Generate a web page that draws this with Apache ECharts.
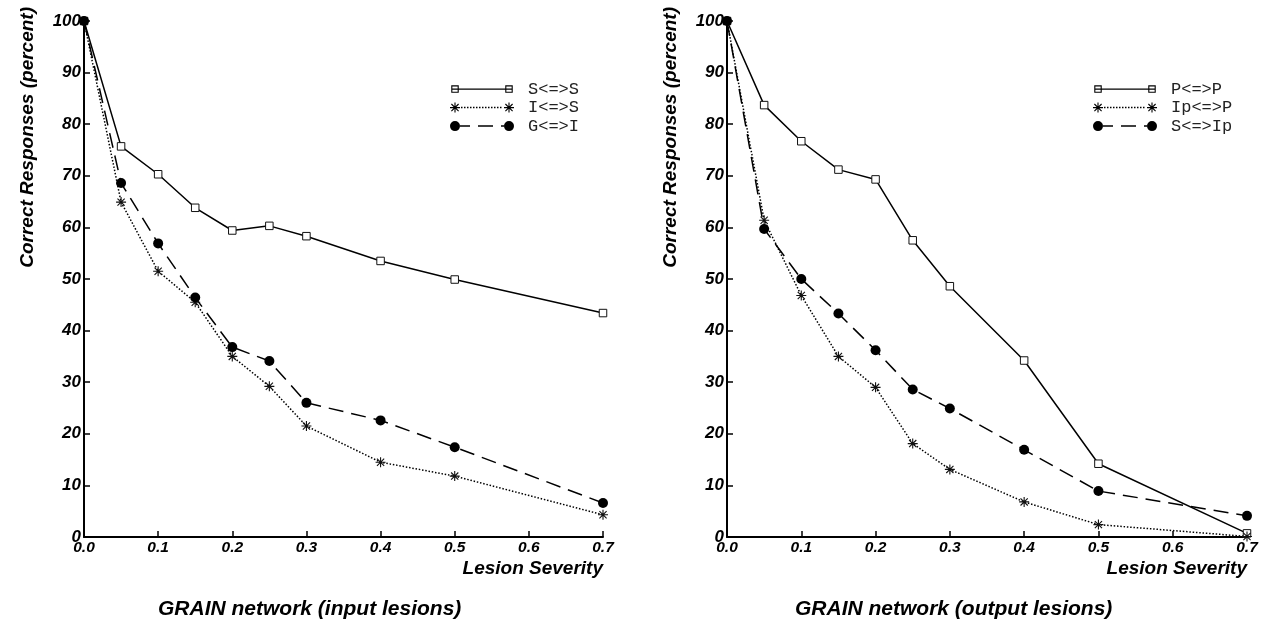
<!DOCTYPE html>
<html><head><meta charset="utf-8">
<script src="https://cdn.jsdelivr.net/npm/echarts@6/dist/echarts.min.js"></script>
<style>html,body{margin:0;padding:0;background:#fff}#c{width:1262px;height:625px}</style>
</head><body><div id="c"></div>
<script>
// ---- data ----
const severity = [0, 0.05, 0.1, 0.15, 0.2, 0.25, 0.3, 0.4, 0.5, 0.7];
const xTickLabels = ['0.0', '0.1', '0.2', '0.3', '0.4', '0.5', '0.6', '0.7'];
const yTickLabels = ['0', '10', '20', '30', '40', '50', '60', '70', '80', '90', '100'];
const inputSS  = [100, 75.7, 70.3, 63.8, 59.4, 60.3, 58.3, 53.5, 49.9, 43.4];
const inputIS  = [100, 64.9, 51.5, 45.5, 35.0, 29.2, 21.5, 14.5, 11.8, 4.3];
const inputGI  = [100, 68.6, 56.9, 46.4, 36.8, 34.1, 26.0, 22.6, 17.4, 6.6];
const outputPP  = [100, 83.7, 76.7, 71.2, 69.3, 57.5, 48.6, 34.2, 14.2, 0.7];
const outputIpP = [100, 61.4, 46.8, 35.0, 29.0, 18.1, 13.1, 6.8, 2.4, 0.1];
const outputSIp = [100, 59.7, 50.0, 43.3, 36.2, 28.6, 24.9, 16.9, 8.9, 4.1];
const leftNames = ['S<=>S', 'I<=>S', 'G<=>I'];
const rightNames = ['P<=>P', 'Ip<=>P', 'S<=>Ip'];
const panelTitles = ['GRAIN network (input lesions)', 'GRAIN network (output lesions)'];
const xName = 'Lesion Severity';
const yName = 'Correct Responses (percent)';

// ---- symbol paths ----
function quad(x1, y1, x2, y2, w, rev) {
  const dx = x2 - x1, dy = y2 - y1, L = Math.hypot(dx, dy);
  const nx = -dy / L * w / 2, ny = dx / L * w / 2;
  let p = [[x1 + nx, y1 + ny], [x2 + nx, y2 + ny], [x2 - nx, y2 - ny], [x1 - nx, y1 - ny]];
  if (rev) p = p.reverse();
  return 'M' + p.map(q => q[0].toFixed(3) + ' ' + q[1].toFixed(3)).join('L') + 'Z';
}
function star(cx, cy, r, w) {
  const d = r * 0.72;
  return quad(cx, cy - r, cx, cy + r, w) + quad(cx - r, cy, cx + r, cy, w) +
         quad(cx - d, cy - d, cx + d, cy + d, w) + quad(cx + d, cy - d, cx - d, cy + d, w);
}
function circ(cx, cy, r) {
  return `M${cx - r} ${cy}A${r} ${r} 0 1 1 ${cx + r} ${cy}A${r} ${r} 0 1 1 ${cx - r} ${cy}Z`;
}
function hollowSq(cx, cy, s, t) {
  return quad(cx - s / 2, cy, cx + s / 2, cy, s) + quad(cx - s / 2 + t, cy, cx + s / 2 - t, cy, s - 2 * t, true);
}
const anchors = 'M0 0L0.01 0L0 0.01Z M64 10L63.99 10L64 9.99Z';
const iconSquare = 'path://' + anchors + hollowSq(5, 5, 7.5, 1.1) + hollowSq(59, 5, 7.5, 1.1) + quad(1.5, 5, 62.5, 5, 1.4);
let dots = '';
for (let x = 11; x < 53; x += 3) dots += quad(x, 5, x + 1.5, 5, 1.5);
const iconStar = 'path://' + star(5, 5, 5, 1.1) + star(59, 5, 5, 1.1) + dots;
const iconCircle = 'path://' + circ(5, 5, 5) + circ(59, 5, 5) +
  quad(10, 5, 20, 5, 1.5) + quad(28, 5, 43, 5, 1.5) + quad(51, 5, 54, 5, 1.5);
const icons = [iconSquare, iconStar, iconCircle];
const starSymbol = 'path://' + star(5, 5, 5, 1.1);

// ---- build ----
const F = 'Liberation Sans';
function pairs(vals) { return severity.map((x, i) => [x, vals[i]]); }
function mk(name, vals, kind, gi) {
  const s = { name, type: 'line', xAxisIndex: gi, yAxisIndex: gi, data: pairs(vals),
    clip: false, animation: false, showAllSymbol: true, emphasis: { disabled: true } };
  if (kind === 0) {
    Object.assign(s, { symbol: 'rect', symbolSize: 7.5,
      itemStyle: { color: '#fff', borderColor: '#111', borderWidth: 1 },
      lineStyle: { color: '#000', width: 1.5, type: 'solid' } });
  } else if (kind === 1) {
    Object.assign(s, { symbol: starSymbol, symbolSize: 10,
      itemStyle: { color: '#111', borderWidth: 0 },
      lineStyle: { color: '#000', width: 1.5, type: [1.5, 1.8] } });
  } else {
    Object.assign(s, { symbol: 'circle', symbolSize: 10,
      itemStyle: { color: '#000', borderWidth: 0 },
      lineStyle: { color: '#000', width: 1.5, type: [15, 8] } });
  }
  return s;
}
const boldIt = { fontFamily: F, fontWeight: 'bold', fontStyle: 'italic', color: '#000' };
function xAx(gi) {
  return { type: 'value', gridIndex: gi, min: 0, max: 0.7, interval: 0.1,
    axisLine: { lineStyle: { color: '#000', width: 2 } },
    axisTick: { inside: true, length: 6, lineStyle: { color: '#000', width: 1.5 } },
    splitLine: { show: false },
    axisLabel: Object.assign({ margin: 3, fontSize: 15.5,
      formatter: v => xTickLabels[Math.round(v * 10)] }, boldIt),
    name: xName, nameLocation: 'end', nameGap: 0,
    nameTextStyle: Object.assign({ fontSize: 19, align: 'right', verticalAlign: 'top', padding: [22, 0, 0, 0] }, boldIt)
  };
}
function yAx(gi) {
  return { type: 'value', gridIndex: gi, min: 0, max: 100, interval: 10,
    axisLine: { show: true, lineStyle: { color: '#000', width: 2 } },
    axisTick: { show: true, inside: true, length: 6, lineStyle: { color: '#000', width: 1.5 } },
    splitLine: { show: false },
    axisLabel: Object.assign({ margin: 3, fontSize: 17,
      formatter: v => yTickLabels[Math.round(v / 10)] }, boldIt),
    name: yName, nameLocation: 'end', nameGap: 14, nameRotate: 90,
    nameTextStyle: Object.assign({ fontSize: 19, align: 'right', verticalAlign: 'bottom', padding: [0, 0, 47, 0] }, boldIt)
  };
}
function lg(names, left) {
  return { left, top: 80.6, orient: 'vertical', padding: 0, itemWidth: 64, itemHeight: 10, itemGap: 1.5,
    selectedMode: false, itemStyle: { color: '#000', borderWidth: 0 },
    textStyle: { fontFamily: 'Liberation Mono', fontSize: 17, color: '#222', padding: [0, 0, 0, 9] },
    data: names.map((n, i) => ({ name: n, icon: icons[i] })) };
}
const titleStyle = Object.assign({ fontSize: 21 }, boldIt);
const option = {
  backgroundColor: '#fff',
  animation: false,
  title: [
    { text: panelTitles[0], left: 158, top: 599, padding: 0, textStyle: titleStyle },
    { text: panelTitles[1], left: 795, top: 599, padding: 0, textStyle: titleStyle }
  ],
  legend: [lg(leftNames, 450), lg(rightNames, 1093)],
  grid: [
    { left: 84, top: 21, width: 519, height: 516, outerBoundsMode: 'none' },
    { left: 727, top: 21, width: 520, height: 516, outerBoundsMode: 'none' }
  ],
  xAxis: [xAx(0), xAx(1)],
  yAxis: [yAx(0), yAx(1)],
  series: [
    mk(leftNames[0], inputSS, 0, 0), mk(leftNames[1], inputIS, 1, 0), mk(leftNames[2], inputGI, 2, 0),
    mk(rightNames[0], outputPP, 0, 1), mk(rightNames[1], outputIpP, 1, 1), mk(rightNames[2], outputSIp, 2, 1)
  ]
};
const chart = echarts.init(document.getElementById('c'), null, { renderer: 'canvas' });
chart.setOption(option);
</script></body></html>
